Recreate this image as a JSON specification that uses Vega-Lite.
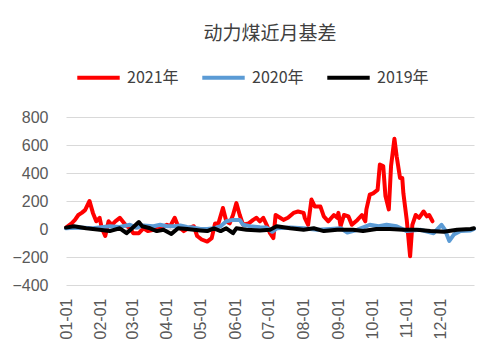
{
  "$schema": "https://vega.github.io/schema/vega-lite/v6.json",
  "width": 408,
  "height": 168,
  "autosize": "none",
  "padding": {"left": 66, "top": 117, "right": 24, "bottom": 71},
  "background": "white",
  "title": {"text": "动力煤近月基差", "fontSize": 19, "font": "Noto Sans CJK SC", "fontWeight": "normal", "color": "#404040", "anchor": "middle", "offset": 10},
  "config": {"view": {"stroke": null}},
  "data": {"values": [
    {"d":"2001-01-01","s":"2021年","v":10},{"d":"2001-01-06","s":"2021年","v":40},{"d":"2001-01-09","s":"2021年","v":65},{"d":"2001-01-12","s":"2021年","v":100},{"d":"2001-01-15","s":"2021年","v":115},{"d":"2001-01-18","s":"2021年","v":135},{"d":"2001-01-22","s":"2021年","v":200},{"d":"2001-01-25","s":"2021年","v":115},{"d":"2001-01-28","s":"2021年","v":55},{"d":"2001-01-31","s":"2021年","v":80},{"d":"2001-02-02","s":"2021年","v":5},{"d":"2001-02-05","s":"2021年","v":-50},{"d":"2001-02-08","s":"2021年","v":55},{"d":"2001-02-11","s":"2021年","v":30},{"d":"2001-02-14","s":"2021年","v":55},{"d":"2001-02-18","s":"2021年","v":80},{"d":"2001-02-23","s":"2021年","v":30},{"d":"2001-02-27","s":"2021年","v":5},{"d":"2001-03-02","s":"2021年","v":-30},{"d":"2001-03-07","s":"2021年","v":-30},{"d":"2001-03-11","s":"2021年","v":5},{"d":"2001-03-15","s":"2021年","v":-15},{"d":"2001-03-20","s":"2021年","v":-5},{"d":"2001-03-26","s":"2021年","v":5},{"d":"2001-04-01","s":"2021年","v":30},{"d":"2001-04-04","s":"2021年","v":20},{"d":"2001-04-08","s":"2021年","v":80},{"d":"2001-04-11","s":"2021年","v":20},{"d":"2001-04-16","s":"2021年","v":-15},{"d":"2001-04-20","s":"2021年","v":5},{"d":"2001-04-25","s":"2021年","v":20},{"d":"2001-04-28","s":"2021年","v":-50},{"d":"2001-05-02","s":"2021年","v":-75},{"d":"2001-05-07","s":"2021年","v":-90},{"d":"2001-05-11","s":"2021年","v":-65},{"d":"2001-05-14","s":"2021年","v":40},{"d":"2001-05-17","s":"2021年","v":40},{"d":"2001-05-21","s":"2021年","v":150},{"d":"2001-05-24","s":"2021年","v":55},{"d":"2001-05-27","s":"2021年","v":40},{"d":"2001-05-30","s":"2021年","v":100},{"d":"2001-06-02","s":"2021年","v":185},{"d":"2001-06-05","s":"2021年","v":100},{"d":"2001-06-08","s":"2021年","v":30},{"d":"2001-06-13","s":"2021年","v":40},{"d":"2001-06-17","s":"2021年","v":65},{"d":"2001-06-20","s":"2021年","v":80},{"d":"2001-06-23","s":"2021年","v":55},{"d":"2001-06-26","s":"2021年","v":80},{"d":"2001-06-29","s":"2021年","v":30},{"d":"2001-07-02","s":"2021年","v":-30},{"d":"2001-07-05","s":"2021年","v":-65},{"d":"2001-07-07","s":"2021年","v":100},{"d":"2001-07-11","s":"2021年","v":80},{"d":"2001-07-14","s":"2021年","v":65},{"d":"2001-07-18","s":"2021年","v":80},{"d":"2001-07-23","s":"2021年","v":115},{"d":"2001-07-27","s":"2021年","v":125},{"d":"2001-08-01","s":"2021年","v":115},{"d":"2001-08-02","s":"2021年","v":80},{"d":"2001-08-05","s":"2021年","v":30},{"d":"2001-08-08","s":"2021年","v":210},{"d":"2001-08-11","s":"2021年","v":160},{"d":"2001-08-16","s":"2021年","v":160},{"d":"2001-08-19","s":"2021年","v":90},{"d":"2001-08-23","s":"2021年","v":55},{"d":"2001-08-28","s":"2021年","v":100},{"d":"2001-08-31","s":"2021年","v":80},{"d":"2001-09-01","s":"2021年","v":115},{"d":"2001-09-03","s":"2021年","v":20},{"d":"2001-09-06","s":"2021年","v":100},{"d":"2001-09-10","s":"2021年","v":90},{"d":"2001-09-13","s":"2021年","v":30},{"d":"2001-09-18","s":"2021年","v":65},{"d":"2001-09-22","s":"2021年","v":100},{"d":"2001-09-25","s":"2021年","v":55},{"d":"2001-09-26","s":"2021年","v":140},{"d":"2001-09-29","s":"2021年","v":245},{"d":"2001-10-02","s":"2021年","v":255},{"d":"2001-10-06","s":"2021年","v":280},{"d":"2001-10-08","s":"2021年","v":460},{"d":"2001-10-11","s":"2021年","v":450},{"d":"2001-10-13","s":"2021年","v":235},{"d":"2001-10-16","s":"2021年","v":140},{"d":"2001-10-18","s":"2021年","v":450},{"d":"2001-10-21","s":"2021年","v":645},{"d":"2001-10-23","s":"2021年","v":520},{"d":"2001-10-26","s":"2021年","v":365},{"d":"2001-10-28","s":"2021年","v":365},{"d":"2001-10-29","s":"2021年","v":255},{"d":"2001-11-01","s":"2021年","v":65},{"d":"2001-11-04","s":"2021年","v":-195},{"d":"2001-11-06","s":"2021年","v":30},{"d":"2001-11-09","s":"2021年","v":100},{"d":"2001-11-12","s":"2021年","v":80},{"d":"2001-11-16","s":"2021年","v":125},{"d":"2001-11-19","s":"2021年","v":90},{"d":"2001-11-21","s":"2021年","v":100},{"d":"2001-11-24","s":"2021年","v":55},
    {"d":"2001-01-01","s":"2020年","v":5},{"d":"2001-01-13","s":"2020年","v":10},{"d":"2001-01-25","s":"2020年","v":5},{"d":"2001-02-09","s":"2020年","v":20},{"d":"2001-02-18","s":"2020年","v":15},{"d":"2001-02-27","s":"2020年","v":30},{"d":"2001-03-05","s":"2020年","v":10},{"d":"2001-03-11","s":"2020年","v":25},{"d":"2001-03-20","s":"2020年","v":20},{"d":"2001-03-26","s":"2020年","v":30},{"d":"2001-04-01","s":"2020年","v":20},{"d":"2001-04-07","s":"2020年","v":20},{"d":"2001-04-13","s":"2020年","v":25},{"d":"2001-04-19","s":"2020年","v":15},{"d":"2001-04-25","s":"2020年","v":10},{"d":"2001-05-01","s":"2020年","v":0},{"d":"2001-05-07","s":"2020年","v":0},{"d":"2001-05-13","s":"2020年","v":5},{"d":"2001-05-19","s":"2020年","v":20},{"d":"2001-05-24","s":"2020年","v":55},{"d":"2001-05-30","s":"2020年","v":65},{"d":"2001-06-05","s":"2020年","v":65},{"d":"2001-06-08","s":"2020年","v":30},{"d":"2001-06-14","s":"2020年","v":20},{"d":"2001-06-23","s":"2020年","v":12},{"d":"2001-06-29","s":"2020年","v":10},{"d":"2001-07-04","s":"2020年","v":-20},{"d":"2001-07-08","s":"2020年","v":5},{"d":"2001-07-20","s":"2020年","v":10},{"d":"2001-08-01","s":"2020年","v":5},{"d":"2001-08-13","s":"2020年","v":-5},{"d":"2001-08-25","s":"2020年","v":0},{"d":"2001-09-03","s":"2020年","v":5},{"d":"2001-09-09","s":"2020年","v":-25},{"d":"2001-09-18","s":"2020年","v":-5},{"d":"2001-09-29","s":"2020年","v":30},{"d":"2001-10-07","s":"2020年","v":20},{"d":"2001-10-14","s":"2020年","v":30},{"d":"2001-10-23","s":"2020年","v":20},{"d":"2001-11-01","s":"2020年","v":-15},{"d":"2001-11-13","s":"2020年","v":-5},{"d":"2001-11-25","s":"2020年","v":-30},{"d":"2001-12-02","s":"2020年","v":30},{"d":"2001-12-05","s":"2020年","v":-5},{"d":"2001-12-09","s":"2020年","v":-85},{"d":"2001-12-13","s":"2020年","v":-40},{"d":"2001-12-19","s":"2020年","v":-15},{"d":"2001-12-28","s":"2020年","v":-10},{"d":"2001-12-31","s":"2020年","v":0},
    {"d":"2001-01-01","s":"2019年","v":10},{"d":"2001-01-08","s":"2019年","v":20},{"d":"2001-01-19","s":"2019年","v":5},{"d":"2001-01-31","s":"2019年","v":-5},{"d":"2001-02-09","s":"2019年","v":-15},{"d":"2001-02-18","s":"2019年","v":5},{"d":"2001-02-24","s":"2019年","v":-30},{"d":"2001-03-01","s":"2019年","v":5},{"d":"2001-03-07","s":"2019年","v":50},{"d":"2001-03-10","s":"2019年","v":20},{"d":"2001-03-17","s":"2019年","v":5},{"d":"2001-03-23","s":"2019年","v":-15},{"d":"2001-03-29","s":"2019年","v":-5},{"d":"2001-04-05","s":"2019年","v":-35},{"d":"2001-04-11","s":"2019年","v":5},{"d":"2001-04-19","s":"2019年","v":0},{"d":"2001-05-01","s":"2019年","v":-10},{"d":"2001-05-07","s":"2019年","v":-15},{"d":"2001-05-13","s":"2019年","v":5},{"d":"2001-05-19","s":"2019年","v":-15},{"d":"2001-05-24","s":"2019年","v":5},{"d":"2001-05-30","s":"2019年","v":-30},{"d":"2001-06-02","s":"2019年","v":5},{"d":"2001-06-11","s":"2019年","v":-5},{"d":"2001-06-23","s":"2019年","v":-10},{"d":"2001-07-02","s":"2019年","v":-5},{"d":"2001-07-08","s":"2019年","v":20},{"d":"2001-07-20","s":"2019年","v":5},{"d":"2001-08-01","s":"2019年","v":-5},{"d":"2001-08-10","s":"2019年","v":5},{"d":"2001-08-19","s":"2019年","v":-15},{"d":"2001-08-31","s":"2019年","v":-5},{"d":"2001-09-14","s":"2019年","v":-5},{"d":"2001-09-23","s":"2019年","v":-15},{"d":"2001-10-05","s":"2019年","v":0},{"d":"2001-10-17","s":"2019年","v":0},{"d":"2001-10-29","s":"2019年","v":-5},{"d":"2001-11-10","s":"2019年","v":-5},{"d":"2001-11-22","s":"2019年","v":-15},{"d":"2001-12-04","s":"2019年","v":-20},{"d":"2001-12-16","s":"2019年","v":-5},{"d":"2001-12-28","s":"2019年","v":0},{"d":"2001-12-31","s":"2019年","v":5}
  ]},
  "mark": {"type": "line", "strokeWidth": 4, "strokeJoin": "round", "strokeCap": "round"},
  "encoding": {
    "x": {"field": "d", "type": "temporal",
      "scale": {"type": "utc", "domain": [{"year":2001,"month":1,"date":1,"utc":true},{"year":2001,"month":12,"date":31,"utc":true}]},
      "axis": {"title": null, "labelExpr": "utcFormat(datum.value, '%m-%d')", "labelAngle": -90, "labelFontSize": 16, "labelFont": "Liberation Sans", "labelColor": "#595959", "labelPadding": 13, "domain": false, "ticks": false, "grid": false, "labelOverlap": false,
        "values": [{"year":2001,"month":1,"date":1,"utc":true},{"year":2001,"month":2,"date":1,"utc":true},{"year":2001,"month":3,"date":1,"utc":true},{"year":2001,"month":4,"date":1,"utc":true},{"year":2001,"month":5,"date":1,"utc":true},{"year":2001,"month":6,"date":1,"utc":true},{"year":2001,"month":7,"date":1,"utc":true},{"year":2001,"month":8,"date":1,"utc":true},{"year":2001,"month":9,"date":1,"utc":true},{"year":2001,"month":10,"date":1,"utc":true},{"year":2001,"month":11,"date":1,"utc":true},{"year":2001,"month":12,"date":1,"utc":true}]}},
    "y": {"field": "v", "type": "quantitative",
      "scale": {"domain": [-400, 800], "nice": false},
      "axis": {"title": null, "values": [-400,-200,0,200,400,600,800], "labelFontSize": 16, "labelFont": "Liberation Sans", "labelColor": "#595959", "labelPadding": 18, "domain": false, "ticks": false, "gridColor": "#d9d9d9", "gridWidth": 1}},
    "color": {"field": "s", "type": "nominal",
      "scale": {"domain": ["2021年","2020年","2019年"], "range": ["#ff0000","#5b9bd5","#000000"]},
      "legend": {"title": null, "orient": "none", "legendX": 9, "legendY": -63, "direction": "horizontal", "symbolType": "stroke", "symbolStrokeWidth": 4, "symbolSize": 1800, "labelFontSize": 16, "labelFont": "Noto Sans CJK SC", "labelColor": "#404040", "labelOffset": 5, "columnPadding": 15}}
  }
}
